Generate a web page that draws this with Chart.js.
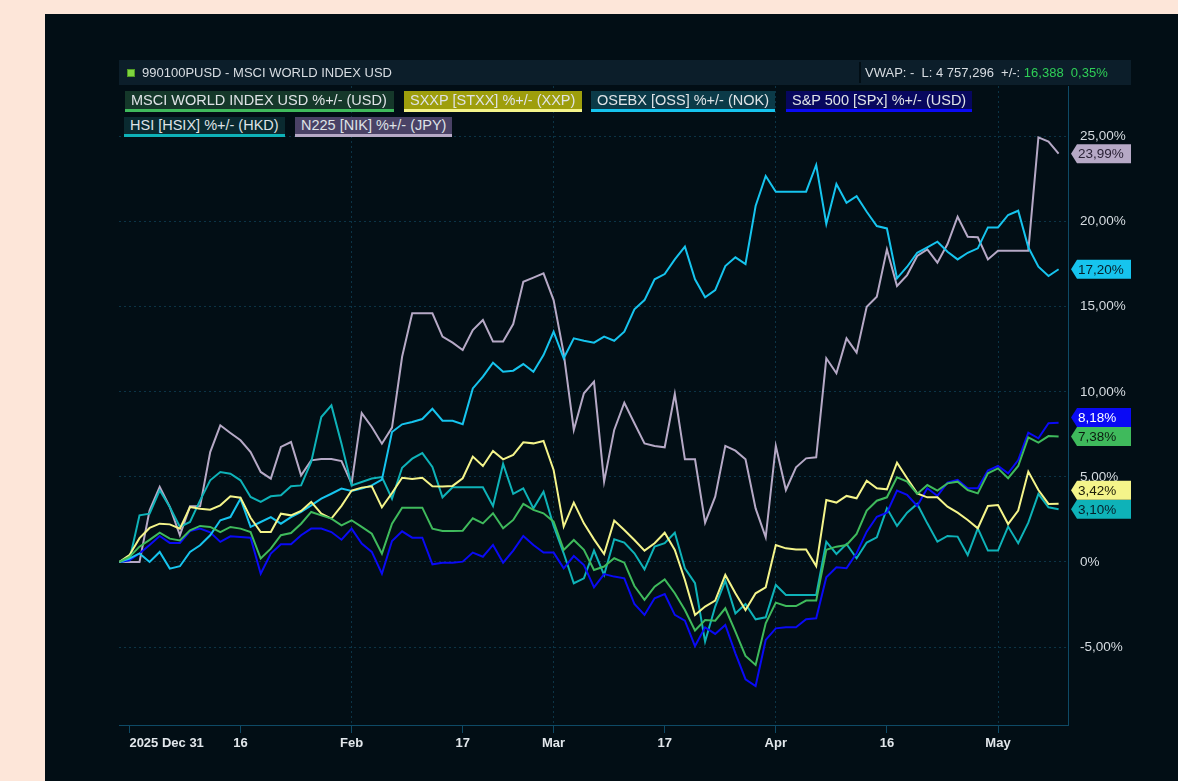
<!DOCTYPE html>
<html>
<head>
<meta charset="utf-8">
<script src="https://cdn.jsdelivr.net/npm/chart.js@4.4.1/dist/chart.umd.min.js"></script>
<style>
  html, body { margin: 0; padding: 0; }
  body { width: 1178px; height: 781px; background: #fde6d9; position: relative; overflow: hidden;
         font-family: 'Liberation Sans', Arial, sans-serif; }
  .panel { position: absolute; left: 45px; top: 14px; width: 1133px; height: 767px; background: #020e15; }
  .header { position: absolute; left: 119px; top: 60px; width: 1012px; height: 25px; background: #0c1e2a;
            color: #d8dde2; font-size: 13px; line-height: 25px; z-index: 2; white-space: pre; }
  .header .sq { position: absolute; left: 8px; top: 9px; width: 6px; height: 6px; background: #7ed43e; border: 1px solid #4f9a24; }
  .header .title { position: absolute; left: 23px; top: 0; }
  .header .sep { position: absolute; left: 740px; top: 2px; width: 2px; height: 21px; background: #020e15; }
  .header .vwap { position: absolute; left: 746px; top: 0; }
  .header .up { color: #2fcf57; }
  .leg { position: absolute; box-sizing: border-box; padding-left: 6px; font-size: 14.5px; color: #dfe3e6;
         border-bottom: 3px solid; white-space: nowrap; z-index: 2; }
  canvas { position: absolute; left: 0; top: 0; z-index: 1; }
</style>
</head>
<body>
<div class="panel"></div>
<div class="header">
  <div class="sq"></div>
  <div class="title">990100PUSD - MSCI WORLD INDEX USD</div>
  <div class="sep"></div>
  <div class="vwap">VWAP: -  L: 4 757,296  +/-: <span class="up">16,388  0,35%</span></div>
</div>
<div id="legend"></div>
<canvas id="chart" width="1178" height="781"></canvas>
<script>
// % change since 2024-12-30, one value per trading day
const msci = [
  0, 0.3, 0.9, 1.3, 1.72, 1.37, 1.27, 1.86, 2.12, 2.06,
  1.76, 2.06, 1.96, 1.76, 0.20, 0.78, 1.57, 1.70, 2.25, 2.94,
  2.74, 2.55, 2.15, 2.45, 2.06, 1.66, 0.49, 2.25, 3.19, 3.19,
  3.19, 1.96, 1.82, 1.82, 1.84, 2.57, 2.27, 2.86, 1.98, 2.47,
  3.41, 3.06, 2.86, 2.37, 0.71, 1.29, 0.71, -0.47, -0.27, 0.22,
  -0.04, -1.41, -2.23, -1.45, -1.02, -1.84, -2.82, -4.03, -3.41, -3.45,
  -2.72, -4.09, -5.52, -6.05, -3.60, -2.39, -2.59, -2.59, -2.27, -2.27,
  0.71, 0.90, 1.00, 1.65, 3.02, 3.60, 3.80, 4.97, 4.72, 4.00,
  4.52, 4.19, 4.62, 4.72, 4.23, 4.03, 5.21, 5.50, 4.92, 5.64,
  7.32, 7.01, 7.40, 7.38
];
const sxxp = [
  0, 0.4, 1.4, 2.0, 2.25, 2.21, 1.96, 3.23, 3.13, 3.07,
  3.33, 3.86, 3.78, 2.60, 1.76, 1.76, 2.84, 2.74, 3.00, 3.53,
  2.84, 2.55, 3.30, 4.20, 4.37, 4.45, 3.21, 4.05, 4.95, 4.88,
  4.95, 4.45, 4.43, 4.47, 4.92, 6.19, 5.64, 6.52, 6.03, 6.29,
  7.03, 6.97, 7.11, 5.41, 2.08, 3.49, 2.27, 1.33, 0.47, 2.43,
  1.88, 1.29, 0.67, 1.10, 1.72, 0.71, -1.06, -3.11, -2.62, -2.27,
  -0.76, -1.84, -2.82, -1.84, -1.49, 1.00, 0.80, 0.74, 0.74, -0.24,
  3.64, 3.49, 3.88, 3.74, 4.78, 4.33, 4.27, 5.84, 4.92, 4.03,
  3.80, 3.80, 3.25, 2.90, 2.47, 1.98, 3.29, 3.35, 2.23, 3.02,
  5.31, 4.23, 3.41, 3.42
];
const osebx = [
  0, 0.2, 0.5, 0, 0.59, -0.39, -0.25, 0.59, 0.98, 1.57,
  2.45, 2.64, 3.72, 2.06, 2.35, 2.64, 2.25, 2.64, 2.94, 3.33,
  3.72, 4.01, 4.31, 4.17, 4.31, 4.50, 4.84, 7.64, 8.09, 8.23,
  8.40, 9.00, 8.30, 8.30, 8.10, 10.20, 10.89, 11.71, 11.18, 11.24,
  11.63, 11.18, 12.16, 13.53, 11.97, 13.14, 13.00, 12.89, 13.24, 13.00,
  13.53, 14.85, 15.39, 16.61, 16.92, 17.78, 18.53, 16.61, 15.55, 15.98,
  17.39, 17.90, 17.51, 20.92, 22.68, 21.76, 21.76, 21.76, 21.76, 23.33,
  19.86, 22.21, 21.11, 21.50, 20.58, 19.74, 19.60, 16.67, 17.35, 18.17,
  18.49, 18.82, 18.23, 17.78, 18.17, 18.43, 19.66, 19.66, 20.39, 20.64,
  18.49, 17.35, 16.80, 17.20
];
const sp500 = [
  0, 0.1, 0.5, 1.0, 1.53, 1.12, 1.12, 1.82, 1.96, 1.74,
  1.18, 1.51, 1.47, 1.43, -0.69, 0.49, 1.04, 1.04, 1.57, 1.96,
  1.96, 1.76, 1.31, 1.96, 1.08, 0.59, -0.69, 1.23, 1.80, 1.43,
  1.43, -0.14, -0.04, -0.04, 0.02, 0.55, 0.31, 1.00, -0.04, 0.67,
  1.53, 1.00, 0.55, 0.55, -0.37, 0.35, -0.18, -1.49, -0.71, -0.86,
  -0.96, -2.47, -3.11, -2.13, -1.88, -3.11, -3.45, -4.94, -3.84, -4.23,
  -3.70, -5.37, -6.89, -7.29, -4.58, -3.90, -3.84, -3.84, -3.37, -3.31,
  -0.90, -0.31, -0.37, 0.51, 1.78, 2.66, 2.90, 4.19, 3.94, 3.29,
  4.33, 3.88, 4.66, 4.82, 4.33, 4.33, 5.37, 5.64, 5.21, 5.99,
  7.60, 7.27, 8.15, 8.18
];
const hsi = [
  0, 0.1, 2.74, 2.84, 4.21, 3.23, 2.06, 2.35, 3.62, 4.80,
  5.29, 5.19, 4.80, 3.82, 3.53, 3.86, 3.92, 4.45, 4.50, 5.88,
  8.52, 9.20, 6.95, 4.50, 4.70, 4.90, 4.99, 3.72, 5.54, 6.07,
  6.40, 5.58, 3.80, 4.39, 4.39, 4.39, 4.39, 3.29, 5.76, 4.00,
  4.33, 3.15, 4.13, 2.12, 0.51, -1.25, -0.96, 0.67, -0.76, 1.33,
  1.14, 0.51, -0.43, 0.90, 1.10, 1.72, -0.37, -1.25, -4.68, -2.62,
  -1.10, -3.02, -2.47, -3.37, -3.25, -1.35, -1.94, -1.94, -1.94, -1.94,
  1.19, 0.47, 1.06, 0.22, 1.14, 1.45, 3.15, 2.12, 2.90, 3.41,
  2.27, 1.19, 1.53, 1.49, 0.41, 1.98, 0.67, 0.67, 2.08, 1.10,
  2.31, 4.00, 3.21, 3.10
];
const n225 = [
  0, 0, 0, 3.04, 4.41, 3.23, 1.57, 3.27, 3.27, 6.46,
  8.03, 7.58, 7.15, 6.46, 5.29, 4.90, 6.76, 7.05, 5.09, 5.97,
  6.05, 6.05, 5.93, 4.60, 8.75, 7.93, 6.95, 7.90, 12.06, 14.61,
  14.61, 14.61, 13.24, 12.89, 12.46, 13.63, 14.22, 12.95, 12.95, 13.98,
  16.47, 16.71, 16.96, 15.39, 12.26, 7.76, 9.91, 10.60, 4.72, 7.76,
  9.36, 8.15, 6.97, 6.82, 6.74, 9.87, 6.03, 6.03, 2.31, 3.84,
  6.82, 6.54, 6.03, 3.15, 1.45, 6.82, 4.23, 5.56, 6.09, 6.15,
  11.97, 11.09, 13.14, 12.30, 15.00, 15.59, 18.37, 16.22, 16.86, 17.98,
  18.37, 17.59, 18.68, 20.29, 19.11, 19.08, 17.78, 18.29, 18.29, 18.29,
  18.29, 24.95, 24.70, 23.99
];

const seriesNames = [
  'MSCI WORLD INDEX USD %+/- (USD)', 'SXXP [STXX] %+/- (XXP)', 'OSEBX [OSS] %+/- (NOK)',
  'S&P 500 [SPx] %+/- (USD)', 'HSI [HSIX] %+/- (HKD)', 'N225 [NIK] %+/- (JPY)'
];
const seriesData = [msci, sxxp, osebx, sp500, hsi, n225];
const lineColors = ['#3fba5c', '#f4f48a', '#16c4ee', '#0a0af5', '#0eb2b8', '#b6a9c6'];
const legendBg = ['#15382a', '#9e9e0c', '#0b3a48', '#07075e', '#0a2a30', '#4a4266'];
const tagText = ['#0b1a10', '#20200a', '#06202a', '#ffffff', '#06202a', '#2a2236'];

// x axis: trading day index, labelled ticks
const dayIndex = msci.map((_, i) => i);
const xTickIndex = [1, 12, 23, 34, 43, 54, 65, 76, 87];
const xTickLabels = ['2025 Dec 31', '16', 'Feb', '17', 'Mar', '17', 'Apr', '16', 'May'];
const monthLabels = ['Feb', 'Mar', 'Apr', 'May'];
const yTickValues = [-5, 0, 5, 10, 15, 20, 25];
const yTickLabels = ['-5,00%', '0%', '5,00%', '10,00%', '15,00%', '20,00%', '25,00%'];

const X_MIN = -0.03, X_MAX = 93.93;
const axisColor = '#0e4a66';
const gridColor = '#0b3446';

// legend boxes (html)
const legendPos = [
  [125, 91, 269, 21], [404, 91, 178, 21], [591, 91, 184, 21], [786, 91, 186, 21],
  [124, 117, 161, 20], [295, 117, 157, 20]
];
const legendEl = document.getElementById('legend');
seriesNames.forEach((name, i) => {
  const d = document.createElement('div');
  const p = legendPos[i];
  d.className = 'leg';
  d.textContent = name;
  d.style.left = p[0] + 'px';
  d.style.top = p[1] + 'px';
  d.style.width = p[2] + 'px';
  d.style.height = p[3] + 'px';
  d.style.lineHeight = (p[3] - 3) + 'px';
  d.style.background = legendBg[i];
  d.style.borderBottomColor = lineColors[i];
  legendEl.appendChild(d);
});

function fmtPct(v) {
  return v.toFixed(2).replace('.', ',') + '%';
}

// value tags on the right axis
const lastValueTags = {
  id: 'lastValueTags',
  afterDraw(chart) {
    const ctx = chart.ctx;
    const yScale = chart.scales.y;
    const area = chart.chartArea;
    const h = 19;
    let tags = chart.data.datasets.map((ds, i) => {
      const v = ds.data[ds.data.length - 1];
      return { v, y: yScale.getPixelForValue(v), i };
    });
    tags.sort((a, b) => a.v - b.v);
    let prev = null;
    tags.forEach(t => {
      if (prev !== null && t.y > prev - h) t.y = prev - h;
      prev = t.y;
    });
    const x0 = area.right + 3;
    ctx.save();
    ctx.font = '13.5px "Liberation Sans", Arial, sans-serif';
    ctx.textBaseline = 'middle';
    ctx.textAlign = 'left';
    tags.forEach(t => {
      ctx.beginPath();
      ctx.moveTo(x0, t.y);
      ctx.lineTo(x0 + 6, t.y - h / 2);
      ctx.lineTo(x0 + 60, t.y - h / 2);
      ctx.lineTo(x0 + 60, t.y + h / 2);
      ctx.lineTo(x0 + 6, t.y + h / 2);
      ctx.closePath();
      ctx.fillStyle = lineColors[t.i];
      ctx.fill();
      ctx.fillStyle = tagText[t.i];
      ctx.fillText(fmtPct(t.v), x0 + 7, t.y + 1);
    });
    ctx.restore();
  }
};

const xTicksAll = xTickIndex.concat([X_MAX]);

new Chart(document.getElementById('chart'), {
  type: 'line',
  data: {
    labels: dayIndex,
    datasets: seriesData.map((d, i) => ({
      label: seriesNames[i],
      data: d,
      borderColor: lineColors[i],
      borderWidth: 2,
      pointRadius: 0,
      tension: 0,
      fill: false
    }))
  },
  options: {
    responsive: false,
    animation: false,
    devicePixelRatio: 1,
    layout: { padding: { left: 119, top: 86, right: 0, bottom: 0 } },
    plugins: { legend: { display: false }, tooltip: { enabled: false } },
    scales: {
      x: {
        type: 'linear',
        min: X_MIN,
        max: X_MAX,
        afterBuildTicks: s => { s.ticks = xTicksAll.map(v => ({ value: v })); },
        afterFit: s => { s.height = 56; },
        grid: {
          color: c => (c.tick && monthLabels.includes(xTickLabels[xTickIndex.indexOf(c.tick.value)])) ? gridColor : 'rgba(0,0,0,0)',
          tickColor: c => (c.tick && c.tick.value === X_MAX) ? 'rgba(0,0,0,0)' : axisColor,
          tickLength: 8,
          drawTicks: true
        },
        border: { display: true, color: axisColor, width: 1, dash: [2, 3] },
        ticks: {
          autoSkip: false,
          maxRotation: 0,
          align: 'inner',
          padding: 3,
          color: '#e2e7eb',
          font: { family: '"Liberation Sans", Arial, sans-serif', size: 13, weight: 'bold' },
          callback: (v, i) => (i < xTickLabels.length ? xTickLabels[i] : '')
        }
      },
      y: {
        position: 'right',
        min: -9.58,
        max: 27.97,
        afterBuildTicks: s => { s.ticks = yTickValues.map(v => ({ value: v })); },
        afterFit: s => { s.width = 110; },
        grid: { color: gridColor, drawTicks: false },
        border: { display: true, color: axisColor, width: 1, dash: [2, 3] },
        ticks: {
          autoSkip: false,
          includeBounds: false,
          padding: 12,
          color: '#d5dbe0',
          font: { family: '"Liberation Sans", Arial, sans-serif', size: 13.5 },
          callback: v => yTickLabels[yTickValues.indexOf(v)]
        }
      }
    }
  },
  plugins: [lastValueTags]
});
</script>
</body>
</html>
